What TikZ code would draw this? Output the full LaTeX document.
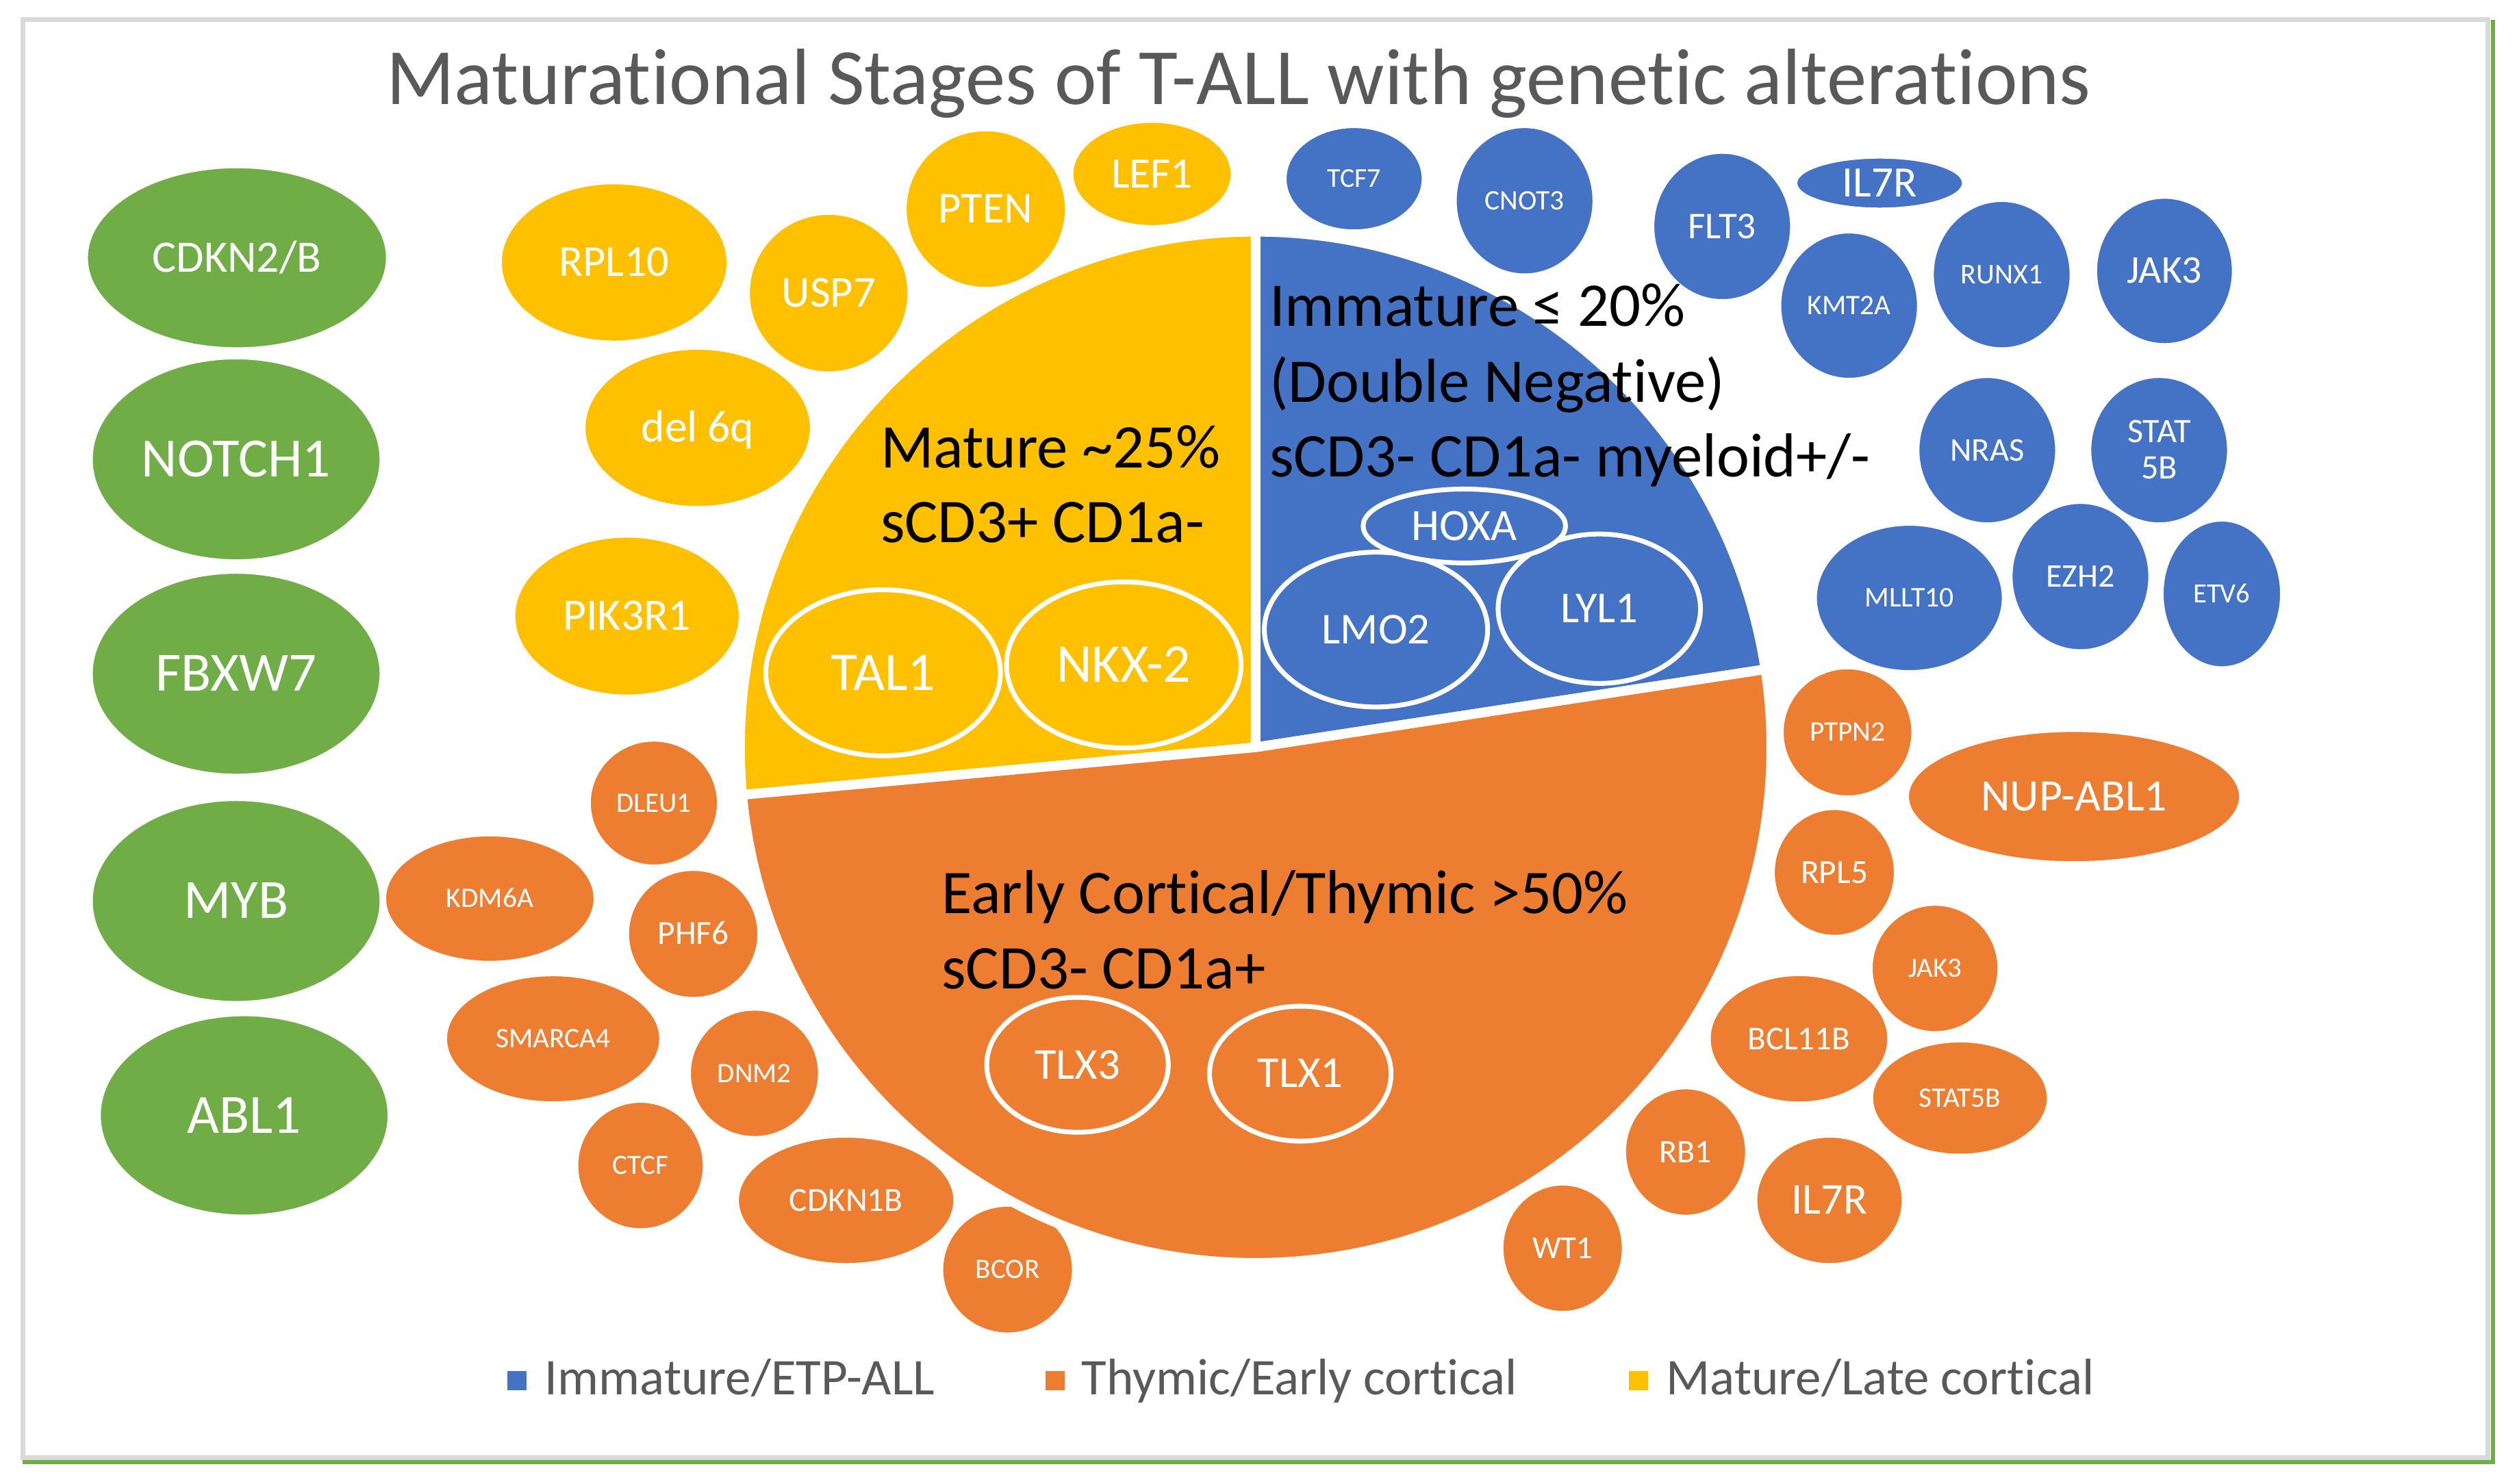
\documentclass[tikz,border=0pt]{standalone}
\usepackage{fontspec}
\setmainfont{Carlito}[Ligatures=NoCommon]
\definecolor{cblue}{HTML}{4472C4}
\definecolor{corange}{HTML}{ED7D31}
\definecolor{cyel}{HTML}{FFC000}
\definecolor{cgreen}{HTML}{70AD47}
\definecolor{cframe}{HTML}{D9D9D9}
\definecolor{txtgray}{HTML}{595959}
\newcommand\mybub[8]{%
  \fill[#6, draw=white, line width=1.5pt] (#2,#3) ellipse[x radius=#4, y radius=#5];
  \node[lbl, yshift={-0.316*#7}, font=\fontsize{#7}{#7}\selectfont] (#1) at (#2,#3) {#8};
}
\newcommand\myring[8]{%
  \filldraw[fill=#6, draw=white, line width=3pt] (#2,#3) ellipse[x radius=#4, y radius=#5];
  \node[lbl, yshift={-0.316*#7}, font=\fontsize{#7}{#7}\selectfont] (#1) at (#2,#3) {#8};
}
\begin{document}
\begin{tikzpicture}[x=1pt,y=-1pt,
  lbl/.style={text=white, inner sep=0pt, anchor=base},
  sect/.style={text=black, inner sep=0pt, anchor=base west, font=\fontsize{38.7}{46}\selectfont},
  leg/.style={text=txtgray, inner sep=0pt, anchor=base west, font=\fontsize{32}{38}\selectfont},
  sectorfill/.style={draw=white, line width=6pt, line join=round}
]
\useasboundingbox (0,0) rectangle (1568,924);
% frame
\draw[cframe, line width=3pt] (14.2,12.2) rectangle (1548.5,907.5);
\draw[cgreen, line width=2.7pt] (1551.8,12.4) -- (1551.8,911.7);
\draw[cgreen, line width=2.7pt] (14,910.4) -- (1553,910.4);
% title
\node[text=txtgray, inner sep=0pt, anchor=base, font=\fontsize{49.7}{59}\selectfont] (title) at (771,64.8) {Maturational Stages of T-ALL with genetic alterations};
% green
\mybub{cdkn2b}{147.5}{160.5}{93.5}{56.5}{cgreen}{28}{CDKN2/B}
\mybub{notch1}{147}{286}{90}{63}{cgreen}{34.5}{NOTCH1}
\mybub{fbxw7}{147}{419.5}{90}{63}{cgreen}{34.5}{FBXW7}
\mybub{myb}{147}{561}{90}{63}{cgreen}{34.5}{MYB}
\mybub{abl1}{152}{694.5}{90}{62.5}{cgreen}{34.5}{ABL1}
% yellow
\mybub{rpl10}{382.3}{163.4}{70.7}{49.4}{cyel}{27.5}{RPL10}
\mybub{usp7}{515.8}{182.5}{49.8}{49.5}{cyel}{27.5}{USP7}
\mybub{pten}{613.6}{130.2}{50}{49.2}{cyel}{27.5}{PTEN}
\mybub{lef1}{717.1}{108.3}{49.7}{32.6}{cyel}{27}{LEF1}
\mybub{del6q}{434.3}{266.4}{70.6}{49.4}{cyel}{28}{del 6q}
\mybub{pik3r1}{390.3}{383.6}{70.3}{49.6}{cyel}{28}{PIK3R1}
% blue
\mybub{tcf7}{842.9}{111.3}{42.8}{32.3}{cblue}{17}{TCF7}
\mybub{cnot3}{949}{125}{43}{46}{cblue}{17.6}{CNOT3}
\mybub{flt3}{1072}{141}{43}{46}{cblue}{23.5}{FLT3}
\mybub{il7rb}{1170}{114}{52}{16}{cblue}{27}{IL7R}
\mybub{kmt2a}{1151}{190.3}{43}{45.7}{cblue}{17.6}{KMT2A}
\mybub{runx1}{1246}{171}{43}{46}{cblue}{17.8}{RUNX1}
\mybub{jak3b}{1347.3}{168.7}{42.7}{45.7}{cblue}{24.5}{JAK3}
\mybub{nras}{1237}{280.3}{43}{45.7}{cblue}{20.7}{NRAS}
\fill[cblue, draw=white, line width=1.5pt] (1344,280.3) ellipse[x radius=43, y radius=45.7];
\node[lbl, yshift={-0.316*21.4}, font=\fontsize{21.4}{23}\selectfont] (stat5ba) at (1344,268.6) {STAT};
\node[lbl, yshift={-0.316*21.4}, font=\fontsize{21.4}{23}\selectfont] (stat5bb) at (1344,291.5) {5B};
\mybub{mllt10}{1188.5}{372.3}{58.3}{45.7}{cblue}{17.8}{MLLT10}
\mybub{ezh2}{1295}{359}{43}{46}{cblue}{20.5}{EZH2}
\mybub{etv6}{1383}{369.8}{37}{45.8}{cblue}{17.3}{ETV6}
% orange
\mybub{dleu1}{407}{500}{40}{39}{corange}{17.5}{DLEU1}
\mybub{kdm6a}{304.9}{559.5}{65.3}{39.5}{corange}{17.6}{KDM6A}
\mybub{phf6}{431.5}{581.5}{40.7}{40}{corange}{21}{PHF6}
\mybub{smarca4}{344.3}{646.8}{66.8}{39.7}{corange}{17.6}{SMARCA4}
\mybub{dnm2}{469.6}{668.3}{40.3}{39.8}{corange}{17.5}{DNM2}
\mybub{ctcf}{398.7}{725.7}{39.5}{39.8}{corange}{17.4}{CTCF}
\mybub{cdkn1b}{526.7}{747.4}{67.5}{39.8}{corange}{21}{CDKN1B}
\mybub{bcor}{627.2}{790.5}{40.8}{39.9}{corange}{17.5}{BCOR}
\mybub{ptpn2}{1150}{456}{40.5}{40}{corange}{17.6}{PTPN2}
\mybub{nupabl1}{1291}{496}{103.5}{41}{corange}{28}{NUP-ABL1}
\mybub{rpl5}{1141.8}{543.2}{37.8}{39.6}{corange}{21}{RPL5}
\mybub{jak3o}{1204.5}{603}{39.6}{39.8}{corange}{17.4}{JAK3}
\mybub{bcl11b}{1119.8}{646.8}{55.7}{39.8}{corange}{20.8}{BCL11B}
\mybub{stat5bo}{1220}{683.7}{54.8}{35.4}{corange}{17.6}{STAT5B}
\mybub{rb1}{1049.2}{717.3}{37.8}{39.8}{corange}{20.4}{RB1}
\mybub{il7ro}{1138.8}{747.4}{45.7}{39.8}{corange}{27.4}{IL7R}
\mybub{wt1}{972.7}{777.2}{37.6}{39.8}{corange}{19.9}{WT1}
% pie
\coordinate (C) at (781.6,465.3);
\filldraw[sectorfill, fill=cyel] (C) -- ++(-90:321) arc[start angle=-90, end angle=-185.3, radius=321] -- cycle;
\filldraw[sectorfill, fill=cblue] (C) -- ++(-8.7:321) arc[start angle=-8.7, end angle=-90, radius=321] -- cycle;
\filldraw[sectorfill, fill=corange] (C) -- ++(-185.3:321) arc[start angle=-185.3, end angle=-368.7, radius=321] -- cycle;
% sector labels
\node[sect] (mat1) at (547.9,291.3) {Mature \textasciitilde25\%};
\node[sect] (mat2) at (547.9,337.8) {sCD3+ CD1a-};
\node[sect] (imm1) at (790,203.2) {Immature ≤ 20\%};
\node[sect] (imm2) at (790,250.2) {(Double Negative)};
\node[sect] (imm3) at (790,296.7) {sCD3- CD1a- myeloid+/-};
\node[sect] (ear1) at (586,568.9) {Early Cortical/Thymic >50\%};
\node[sect] (ear2) at (586,615.6) {sCD3- CD1a+};
% inner rings
\myring{tal1}{549.7}{418.9}{73}{51.7}{cyel}{34}{TAL1}
\myring{nkx2}{699.5}{414}{73}{51.7}{cyel}{34}{NKX-2}
\myring{lmo2}{856.5}{392}{69.5}{48.2}{cblue}{27.5}{LMO2}
\myring{lyl1}{995.5}{379}{63}{46.5}{cblue}{27.5}{LYL1}
\myring{hoxa}{911.5}{327.5}{63}{23}{cblue}{28}{HOXA}
\myring{tlx3}{670.7}{663}{56.5}{42}{corange}{27.5}{TLX3}
\myring{tlx1}{809.4}{668.5}{56.5}{42}{corange}{27.5}{TLX1}
% legend
\fill[cblue] (316,853.7) rectangle (327.7,865.5);
\node[leg] (legb) at (339,868.5) {Immature/ETP-ALL};
\fill[corange] (651,853.7) rectangle (662.7,865.5);
\node[leg] (lego) at (673,868.5) {Thymic/Early cortical};
\fill[cyel] (1014,853.7) rectangle (1025.7,865.5);
\node[leg] (legy) at (1037,868.5) {Mature/Late cortical};
\end{tikzpicture}
\end{document}
